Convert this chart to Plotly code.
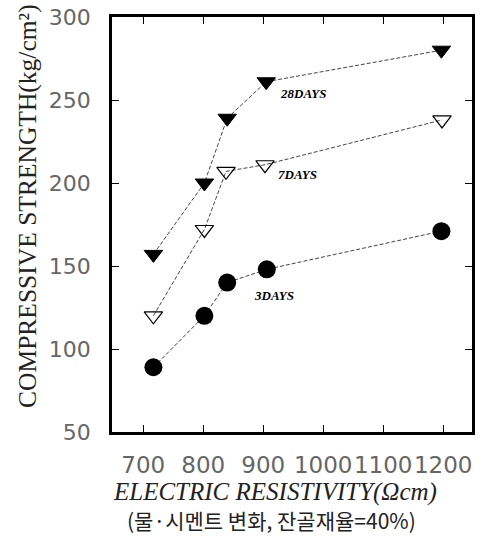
import plotly.graph_objects as go

# Data
resistivity_3d = [717, 802, 840, 906, 1197]
strength_3d = [89, 120, 140, 148, 171]

resistivity_7d = [717, 802, 838, 903, 1198]
strength_7d = [120, 172, 207, 211, 238]

resistivity_28d = [717, 802, 840, 905, 1197]
strength_28d = [157, 200, 239, 261, 280]

x_ticks = [700, 800, 900, 1000, 1100, 1200]
x_tick_labels = ["700", "800", "900", "1000", "1100", "1200"]
y_ticks = [50, 100, 150, 200, 250, 300]
y_tick_labels = ["50", "100", "150", "200", "250", "300"]

line_style = dict(color="#444444", width=1, dash="4px,2px")

fig = go.Figure()
fig.add_trace(go.Scatter(
    x=resistivity_28d, y=strength_28d, mode="lines+markers", name="28DAYS",
    line=line_style,
    marker=dict(symbol="triangle-down", size=16, color="black",
                line=dict(color="black", width=1)),
))
fig.add_trace(go.Scatter(
    x=resistivity_7d, y=strength_7d, mode="lines+markers", name="7DAYS",
    line=line_style,
    marker=dict(symbol="triangle-down-open", size=16, color="black",
                line=dict(color="black", width=1.2)),
))
fig.add_trace(go.Scatter(
    x=resistivity_3d, y=strength_3d, mode="lines+markers", name="3DAYS",
    line=line_style,
    marker=dict(symbol="circle", size=18, color="black"),
))

label_font = dict(family="Liberation Serif", size=13, color="black",
                  weight="bold", style="italic")
fig.add_annotation(x=925, y=254, text="28DAYS", showarrow=False,
                   xanchor="left", font=label_font)
fig.add_annotation(x=922, y=205, text="7DAYS", showarrow=False,
                   xanchor="left", font=label_font)
fig.add_annotation(x=882, y=132, text="3DAYS", showarrow=False,
                   xanchor="left", font=label_font)

# Axis titles
fig.add_annotation(xref="paper", yref="paper", x=-0.233, y=0.545,
                   xanchor="center", yanchor="middle",
                   text="COMPRESSIVE STRENGTH(kg/cm²)", textangle=-90,
                   showarrow=False,
                   font=dict(family="Liberation Serif", size=25.5, color="#222222"))
fig.add_annotation(xref="paper", yref="paper", x=0.453, y=-0.145,
                   xanchor="center", yanchor="middle",
                   text="ELECTRIC RESISTIVITY(Ωcm)", showarrow=False,
                   font=dict(family="Liberation Serif", size=25, color="#222222",
                             style="italic"))
fig.add_annotation(xref="paper", yref="paper", x=0.444, y=-0.212,
                   xanchor="center", yanchor="middle",
                   text="(물·시멘트 변화, 잔골재율=40%)", showarrow=False,
                   font=dict(family="Noto Sans CJK KR", size=21, color="#222222"))

fig.update_xaxes(
    range=[648, 1248], tickvals=x_ticks, ticktext=x_tick_labels, tickangle=0,
    showline=True, linecolor="black", linewidth=2.5, mirror="allticks",
    ticks="inside", ticklen=7, tickwidth=1, tickcolor="black",
    showgrid=False, zeroline=False,
    tickfont=dict(family="DejaVu Sans", size=23, color="#666666"),
    ticklabelstandoff=11, automargin=False,
)
fig.update_yaxes(
    range=[50, 300], tickvals=y_ticks, ticktext=y_tick_labels,
    showline=True, linecolor="black", linewidth=2.5, mirror="allticks",
    ticks="inside", ticklen=7, tickwidth=1, tickcolor="black",
    showgrid=False, zeroline=False,
    tickfont=dict(family="DejaVu Sans", size=22, color="#666666"),
    ticklabelstandoff=14, automargin=False,
)

fig.update_layout(
    width=502, height=536,
    margin=dict(l=112, r=30, t=17, b=104, autoexpand=False),
    paper_bgcolor="white", plot_bgcolor="white",
    showlegend=False,
)

fig.write_html("out.html", config={"displayModeBar": False},
               post_script="document.body.style.margin='0px';")
